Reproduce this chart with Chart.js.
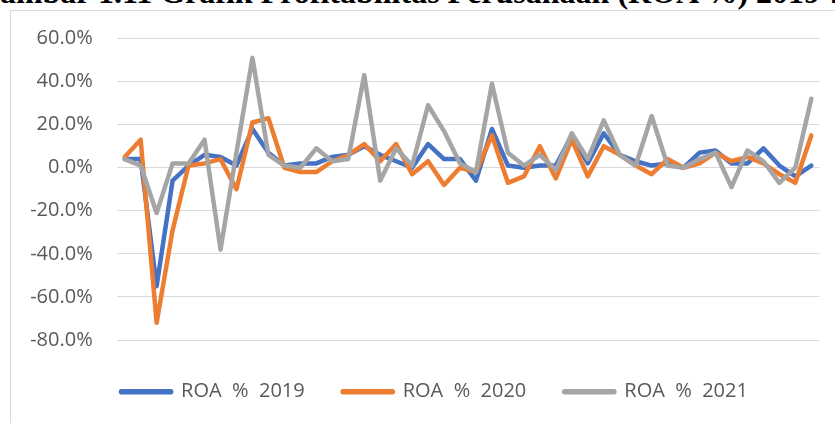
<!DOCTYPE html>
<html>
<head>
<meta charset="utf-8">
<script src="https://cdn.jsdelivr.net/npm/chart.js@4.4.1/dist/chart.umd.min.js"></script>
<style>
  html, body { margin: 0; padding: 0; background: #fff; overflow: hidden; width: 835px; height: 423px; }
  #title {
    position: absolute; left: -25px; top: -24px; white-space: nowrap;
    font-family: "Liberation Serif", "Times New Roman", serif; font-weight: bold;
    font-size: 32px; line-height: 32px; color: #000;
  }
  #frame {
    position: absolute; left: 10px; top: 10px; width: 900px; height: 500px;
    border: 1px solid #d9d9d9; box-sizing: border-box;
  }
  #wrap { position: absolute; left: 10px; top: 10px; width: 849px; height: 413px; }
</style>
</head>
<body>
<div id="title">Gambar 1.11 Grafik Profitabilitas Perusahaan (ROA %) 2019-2021</div>
<div id="frame"></div>
<div id="wrap"><canvas id="roaChart"></canvas></div>
<script>
  // company index (x labels are not shown in the original)
  const companies = ['1', '2', '3', '4', '5', '6', '7', '8', '9', '10', '11',
    '12', '13', '14', '15', '16', '17', '18', '19', '20', '21', '22',
    '23', '24', '25', '26', '27', '28', '29', '30', '31', '32', '33',
    '34', '35', '36', '37', '38', '39', '40', '41', '42', '43', '44'];

  // ROA in percent
  const roa2019 = [4, 4, -55, -6, 1, 6, 5, 1, 18, 7, 1,
    2, 2, 5, 6, 10, 6, 3, 0, 11, 4, 4,
    -6, 18, 1, 0, 1, 1, 15, 2, 16, 6, 3,
    1, 2, 0, 7, 8, 2, 2, 9, 1, -4, 1];
  const roa2020 = [5, 13, -72, -29, 1, 2, 4, -10, 21, 23, 0,
    -2, -2, 3, 6, 11, 3, 11, -3, 3, -8, 0,
    -2, 15, -7, -4, 10, -5, 13, -4, 10, 6, 1,
    -3, 4, 0, 2, 7, 3, 5, 2, -3, -7, 15];
  const roa2021 = [4, 1, -21, 2, 2, 13, -38, 7, 51, 6, 1,
    0, 9, 3, 4, 43, -6, 9, 1, 29, 17, 2,
    -2, 39, 7, 1, 6, -1, 16, 4, 22, 6, 1,
    24, 1, 0, 4, 7, -9, 8, 3, -7, 0, 32];

  const seriesNames = ['ROA  %  2019', 'ROA  %  2020', 'ROA  %  2021'];
  const seriesColors = ['#4472C4', '#ED7D31', '#A5A5A5'];

  const textColor = '#595959';

  function lineSet(i, values) {
    return {
      label: seriesNames[i],
      data: values,
      borderColor: seriesColors[i],
      backgroundColor: seriesColors[i],
      borderWidth: 4.5,
      borderJoinStyle: 'round',
      borderCapStyle: 'round',
      pointRadius: 0,
      tension: 0,
      order: 2 - i // gray drawn on top like the original
    };
  }

  new Chart(document.getElementById('roaChart'), {
    type: 'line',
    data: {
      labels: companies,
      datasets: [lineSet(0, roa2019), lineSet(1, roa2020), lineSet(2, roa2021)]
    },
    options: {
      responsive: true,
      maintainAspectRatio: false,
      animation: false,
      layout: { padding: { top: 28.5, left: 0, right: 0, bottom: 11.3 } },
      scales: {
        x: {
          offset: true,
          grid: { display: false },
          border: { display: false },
          ticks: { display: false },
          afterFit: s => { s.height = 3.7; }
        },
        y: {
          min: -80,
          max: 60,
          ticks: {
            stepSize: 20,
            padding: 24,
            color: textColor,
            font: { family: 'Open Sans', size: 20 },
            callback: v => v.toFixed(1) + '%'
          },
          grid: { color: '#d9d9d9', lineWidth: 1, drawTicks: false },
          border: { display: false },
          afterFit: s => {
            s.width = 106.7;
            s.paddingTop = 0;
            s.paddingBottom = 0;
          }
        },
        yRight: {
          position: 'right',
          grid: { display: false },
          border: { display: false },
          ticks: { display: false },
          afterFit: s => { s.width = 39.7; }
        }
      },
      plugins: {
        legend: {
          position: 'bottom',
          labels: {
            boxWidth: 50,
            boxHeight: 1,
            padding: 38,
            color: textColor,
            font: { family: 'Open Sans', size: 20 },
            sort: (a, b) => a.datasetIndex - b.datasetIndex
          }
        },
        tooltip: { enabled: false }
      }
    }
  });
</script>
</body>
</html>
